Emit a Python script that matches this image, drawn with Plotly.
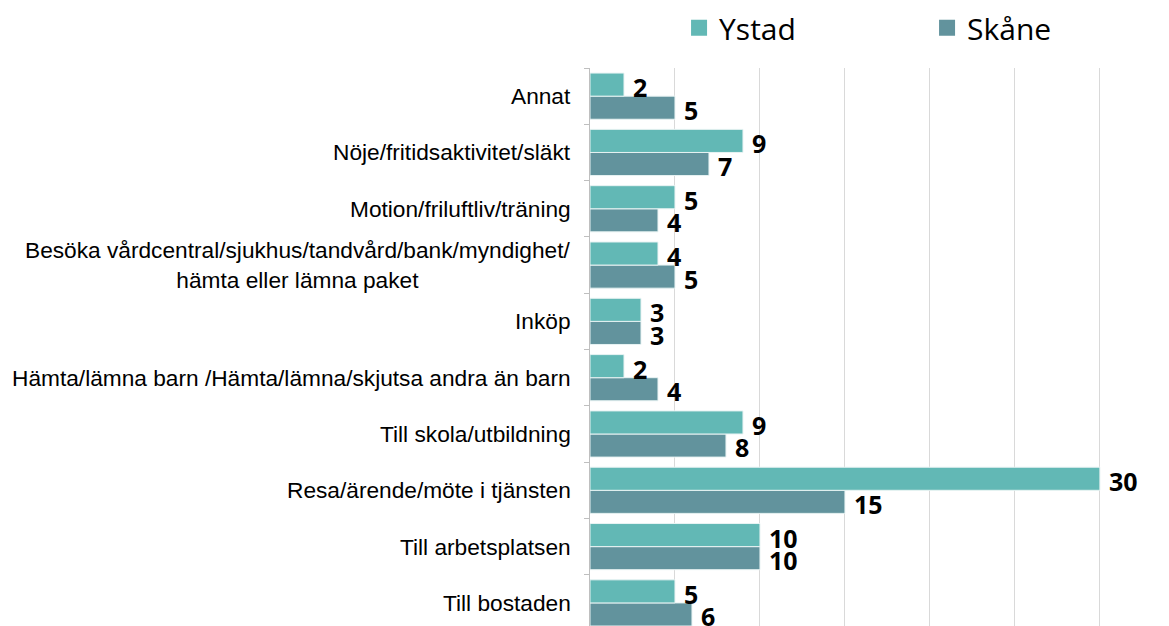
import plotly.graph_objects as go

categories = [
    "Till bostaden",
    "Till arbetsplatsen",
    "Resa/ärende/möte i tjänsten",
    "Till skola/utbildning",
    "Hämta/lämna barn /Hämta/lämna/skjutsa andra än barn",
    "Inköp",
    "Besöka vårdcentral/sjukhus/tandvård/bank/myndighet/<br>hämta eller lämna paket",
    "Motion/friluftliv/träning",
    "Nöje/fritidsaktivitet/släkt",
    "Annat",
]
ystad = [5, 10, 30, 9, 2, 3, 4, 5, 9, 2]
skane = [6, 10, 15, 8, 4, 3, 5, 4, 7, 5]
series_names = ["Ystad", "Skåne"]
colors = {"Ystad": "#62b8b5", "Skåne": "#62939d"}

fig = go.Figure()
# Skåne first so that it is drawn below Ystad within each group
fig.add_trace(go.Bar(y=categories, x=skane, orientation="h", name="Skåne",
                     marker=dict(color=colors["Skåne"], line=dict(color="#e8f3f3", width=1)),
                     showlegend=False, hoverinfo="x+y"))
fig.add_trace(go.Bar(y=categories, x=ystad, orientation="h", name="Ystad",
                     marker=dict(color=colors["Ystad"], line=dict(color="#e8f3f3", width=1)),
                     showlegend=False, hoverinfo="x+y"))

# legend entries with larger square markers
for nm in series_names:
    fig.add_trace(go.Scatter(x=[None], y=[None], mode="markers", name=nm,
                             marker=dict(symbol="square", size=16, color=colors[nm]),
                             showlegend=True))

label_font = dict(family="Open Sans", size=25, color="#000000", weight="bold")
annotations = []
for cat, v in zip(categories, ystad):
    annotations.append(dict(x=v, y=cat, xref="x", yref="y", text=str(v), showarrow=False,
                            xanchor="left", yanchor="middle", xshift=7, yshift=9,
                            font=label_font))
for cat, v in zip(categories, skane):
    annotations.append(dict(x=v, y=cat, xref="x", yref="y", text=str(v), showarrow=False,
                            xanchor="left", yanchor="middle", xshift=7, yshift=-13.5,
                            font=label_font))
for cat in categories:
    annotations.append(dict(x=0, y=cat, xref="paper", yref="y", text=cat, showarrow=False,
                            xanchor="right", yanchor="middle", xshift=-17, align="center",
                            font=dict(family="Liberation Sans, Arial", size=22.7, color="#000000")))

# the page body adds an 8px offset, so the figure is 8px smaller than the window
fig.update_layout(
    width=1161, height=618,
    margin=dict(l=582, r=64, t=60, b=0, autoexpand=False),
    paper_bgcolor="white", plot_bgcolor="white",
    barmode="group", bargap=0.18, bargroupgap=0.0,
    legend=dict(orientation="h", xref="container", yref="paper",
                x=0.578, y=1.072, xanchor="left", yanchor="middle",
                entrywidth=203, entrywidthmode="pixels",
                font=dict(family="Open Sans", size=30, color="#000000"),
                traceorder="normal"),
    annotations=annotations,
    xaxis=dict(range=[0, 30.3], dtick=5, tick0=0, showticklabels=False,
               showgrid=True, gridcolor="#d9d9d9", gridwidth=1, zeroline=False,
               showline=False),
    yaxis=dict(type="category", categoryorder="array", categoryarray=categories,
               range=[-0.41, 9.5], showticklabels=False, showgrid=False,
               showline=True, linecolor="#bfbfbf", linewidth=1,
               ticks="outside", tickson="boundaries", ticklen=5, tickcolor="#bfbfbf"),
)

fig.write_html("out.html")
